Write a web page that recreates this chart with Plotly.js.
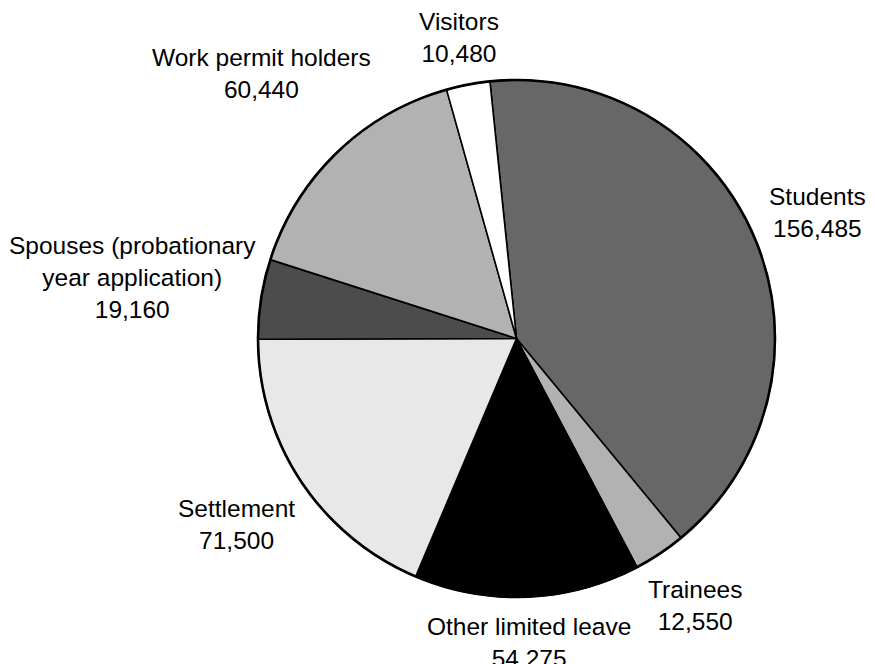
<!DOCTYPE html>
<html>
<head>
<meta charset="utf-8">
<script src="https://cdn.plot.ly/plotly-3.0.1.min.js"></script>
<style>html,body{margin:0;padding:0;background:#fff;}#chart{width:875px;height:664px;}</style>
</head>
<body>
<div id="chart"></div>
<script>
// ---- data ----
const categories = ["Students", "Trainees", "Other limited leave", "Settlement",
                    "Spouses (probationary<br>year application)", "Work permit holders", "Visitors"];
const values = [156485, 12550, 54275, 71500, 19160, 60440, 10480];
const sliceColors = ["#676767", "#b2b2b2", "#000000", "#e8e8e8", "#4c4c4c", "#b2b2b2", "#ffffff"];

// ---- layout constants ----
const W = 875, H = 664;
const CX = 516.5, CY = 338.5, R = 258.5;
const ROT = -5.9;          // start angle of first slice (deg, clockwise from 12 o'clock)
const FONT = "Liberation Sans, Arial, Helvetica, sans-serif";
const FS = 24.5;
const GAP = 13;
const EDGE = 9;            // keep labels this far from the left/right edges

const fmt = v => v.toLocaleString("en-US");

// measure text
const ctx = document.createElement("canvas").getContext("2d");
ctx.font = FS + "px 'Liberation Sans'";

const total = values.reduce((a, b) => a + b, 0);
let cum = 0;
const annotations = [];
values.forEach((v, i) => {
  const mid = (ROT + 360 * (cum + v / 2) / total) * Math.PI / 180;
  cum += v;
  const lines = categories[i].split("<br>").concat([fmt(v)]);
  const w = Math.max(...lines.map(l => ctx.measureText(l).width));
  const h = (lines.length - 1) * FS * 1.3 + FS;
  const s = Math.sin(mid), c = Math.cos(mid);
  const ext = Math.abs(s) * w / 2 + Math.abs(c) * h / 2;
  const D = R + GAP + ext;
  let px = CX + s * D;
  const py = CY - c * D;
  px = Math.min(Math.max(px, EDGE + w / 2), W - EDGE - w / 2);
  annotations.push({
    text: categories[i] + "<br>" + fmt(v),
    x: px / W, y: 1 - py / H, xref: "paper", yref: "paper",
    xanchor: "center", yanchor: "middle", showarrow: false, align: "center",
    font: {family: FONT, size: FS, color: "#000"}
  });
});

const trace = {
  type: "pie",
  labels: categories,
  values: values,
  sort: false,
  direction: "clockwise",
  rotation: ROT,
  textinfo: "none",
  hoverinfo: "skip",
  marker: {colors: sliceColors, line: {color: "#000", width: 1.6}},
  domain: {x: [(CX - R) / W, (CX + R) / W], y: [1 - (CY + R) / H, 1 - (CY - R) / H]},
  showlegend: false
};

const layout = {
  width: W, height: H,
  margin: {l: 0, r: 0, t: 0, b: 0},
  paper_bgcolor: "#fff",
  showlegend: false,
  annotations: annotations,
  shapes: [{type: "circle", xref: "paper", yref: "paper",
            x0: (CX - R) / W, x1: (CX + R) / W, y0: 1 - (CY + R) / H, y1: 1 - (CY - R) / H,
            line: {color: "#000", width: 2.6}, layer: "above"}]
};

Plotly.newPlot("chart", [trace], layout, {staticPlot: true, displayModeBar: false});
</script>
</body>
</html>
